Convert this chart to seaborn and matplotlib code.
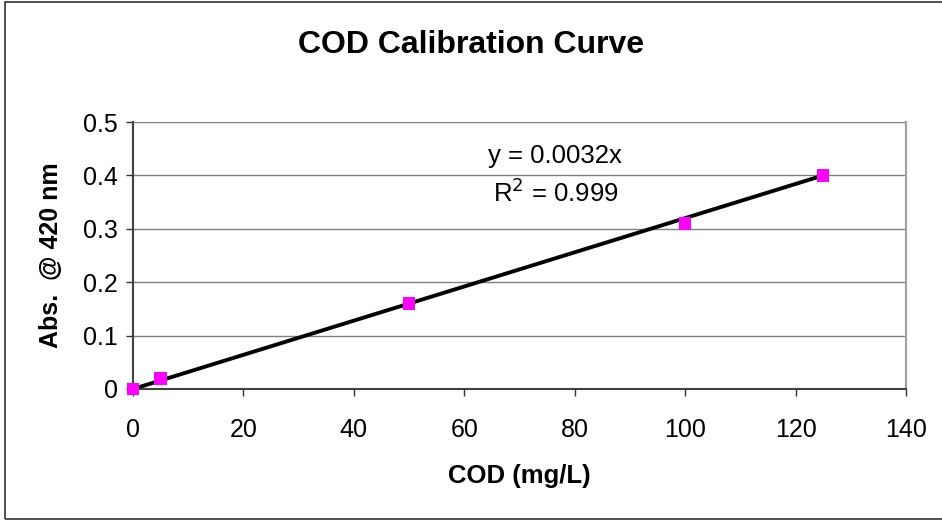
import matplotlib
matplotlib.use("Agg")
import matplotlib.pyplot as plt
from matplotlib.patches import Rectangle
import numpy as np
import pandas as pd
import seaborn as sns

# Calibration standards
cod = [0, 5, 50, 100, 125]
absorbance = [0.0, 0.02, 0.16, 0.31, 0.40]
slope = 0.0032
r_squared = 0.999

x_ticks = [0, 20, 40, 60, 80, 100, 120, 140]
y_ticks = [0, 0.1, 0.2, 0.3, 0.4, 0.5]

sns.set_style("white")
plt.rcParams["font.family"] = ["Liberation Sans", "DejaVu Sans"]
plt.rcParams["text.color"] = "black"
plt.rcParams["axes.labelcolor"] = "black"
plt.rcParams["xtick.color"] = "black"
plt.rcParams["ytick.color"] = "black"

df = pd.DataFrame({"COD": cod, "Abs": absorbance})
fit = pd.DataFrame({"COD": [min(cod), max(cod)]})
fit["Abs"] = slope * fit["COD"]

fig = plt.figure(figsize=(9.42, 5.21), dpi=100)
W, H = 942, 521
ax = fig.add_axes([133 / W, 1 - 389 / H, (906 - 133) / W, (389 - 122) / H])

# outer chart frame
fig.add_artist(Rectangle((5 / W, 2 / H), 1.2, 1 - 4 / H, transform=fig.transFigure,
                         fill=False, edgecolor="#333333", linewidth=1.2, clip_on=False))

for y in y_ticks[1:]:
    ax.axhline(y, color="#808080", linewidth=1.0, zorder=0)

sns.lineplot(data=fit, x="COD", y="Abs", color="black", linewidth=2.8, ax=ax, zorder=2)
sns.scatterplot(data=df, x="COD", y="Abs", marker="s", s=80, color="#FF00FF",
                edgecolor="none", ax=ax, zorder=3, clip_on=False)

ax.set_xlim(0, 140)
ax.set_ylim(0, 0.5)
ax.set_xticks(x_ticks)
ax.set_yticks(y_ticks)
ax.set_xticklabels([str(v) for v in x_ticks])
ax.set_yticklabels(["0" if v == 0 else f"{v:.1f}" for v in y_ticks])
ax.tick_params(axis="both", labelsize=18, length=5, width=1.0, color="#333333",
               labelcolor="black", direction="out", bottom=True, left=True, pad=6)
ax.tick_params(axis="x", pad=16)

for side in ["left", "bottom"]:
    ax.spines[side].set_color("#404040")
    ax.spines[side].set_linewidth(1.5)
ax.spines["right"].set_color("#A0A0A0")
ax.spines["right"].set_linewidth(1.5)
ax.spines["top"].set_visible(False)

ax.set_xlabel("COD (mg/L)", fontsize=18.5, fontweight="bold", labelpad=16)
ax.set_ylabel("Abs.  @ 420 nm", fontsize=18, fontweight="bold", labelpad=14)

ax.text(76.5, 0.436, f"y = {slope}x", fontsize=18.5, ha="center", va="center")
ax.text(76.5, 0.367, f"R$^2$ = {r_squared}", fontsize=18.5, ha="center", va="center")

fig.text(471 / W, 1 - 45 / H, "COD Calibration Curve", fontsize=23, fontweight="bold",
         ha="center", va="center")

fig.savefig("out.png", dpi=100)
